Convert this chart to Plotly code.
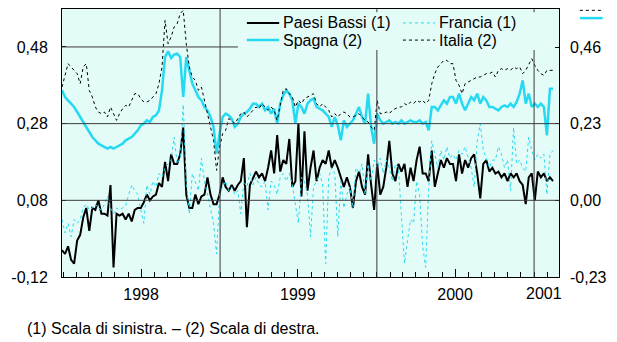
import pandas as pd
import plotly.graph_objects as go

# ---------------- data (weekly readings from the picture) ----------------
dates = pd.date_range("1997-12-29", "2001-02-14", periods=163)

paesi_bassi = [
    -0.05, -0.06, -0.04, -0.075, -0.085, -0.025, -0.01, 0.035, 0.06, 0.0, 0.06, 0.055, 0.08,
    0.045, 0.045, 0.04, 0.12, -0.095, 0.045, 0.04, 0.045, 0.03, 0.045, 0.025, 0.055, 0.06,
    0.06, 0.075, 0.095, 0.08, 0.09, 0.095, 0.125,
    0.115, 0.18, 0.13, 0.20, 0.175, 0.175, 0.20, 0.27, 0.095, 0.06, 0.06, 0.095, 0.07, 0.09,
    0.095, 0.14, 0.095, 0.07, 0.07, 0.095, 0.14, 0.115, 0.105, 0.12, 0.105, 0.12, 0.13, 0.19,
    0.01, 0.12, 0.14, 0.155,
    0.14, 0.15, 0.13, 0.165, 0.21, 0.15, 0.25, 0.155, 0.185, 0.175, 0.24, 0.115, 0.13, 0.28,
    0.09, 0.26, 0.105, 0.165, 0.21, 0.13, 0.165, 0.185, 0.175, 0.21, 0.165, 0.185, 0.165,
    0.14, 0.115, 0.14, 0.115, 0.06,
    0.13, 0.155, 0.115, 0.095, 0.20, 0.12, 0.055, 0.175, 0.095, 0.115, 0.165, 0.235, 0.15,
    0.13, 0.175, 0.155, 0.175, 0.115, 0.165, 0.13, 0.185, 0.22, 0.15, 0.15, 0.13, 0.21,
    0.115, 0.15, 0.185, 0.165, 0.19, 0.175, 0.175,
    0.13, 0.20, 0.15, 0.185, 0.165, 0.19, 0.20, 0.15, 0.085, 0.175, 0.185, 0.155, 0.165,
    0.15, 0.155, 0.14, 0.15, 0.13, 0.15, 0.14, 0.15, 0.13, 0.12, 0.07, 0.14, 0.15, 0.08,
    0.155, 0.14, 0.15, 0.13, 0.14, 0.13,
]

francia = [
    0.03, -0.005, 0.02, -0.015, 0.03, 0.02, 0.03, 0.06, 0.07, 0.055, 0.06, 0.07, 0.06, 0.055,
    0.07, 0.09, 0.06, 0.045, 0.06, 0.055, 0.06, 0.065, 0.095, 0.12, 0.105, 0.095, 0.055, 0.02,
    0.12, 0.095, 0.13, 0.115, 0.15,
    0.14, 0.165, 0.175, 0.185, 0.245, 0.175, 0.19, 0.33, 0.13, 0.045, 0.15, 0.13, 0.105, 0.19,
    0.13, 0.095, 0.055, 0.02, -0.06, 0.095, 0.115, 0.13, 0.105, 0.115, 0.095, 0.105, 0.045,
    0.13, 0.115, 0.15, 0.12, 0.14,
    0.12, 0.115, 0.13, 0.055, 0.13, 0.12, 0.095, 0.14, 0.15, 0.13, 0.15, 0.12, 0.07, 0.02,
    0.14, 0.13, 0.095, -0.015, 0.115, 0.13, 0.15, 0.12, -0.085, 0.14, 0.165, 0.15, -0.015,
    0.13, 0.06, 0.095, 0.115, 0.06,
    0.165, 0.15, 0.175, 0.095, 0.175, 0.13, 0.185, 0.165, 0.19, 0.15, 0.185, 0.165, 0.13,
    0.175, 0.165, 0.045, -0.085, -0.025, 0.03, 0.02, 0.13, 0.095, -0.04, -0.095, 0.115, 0.235,
    0.2, 0.165, 0.21, 0.185, 0.22, 0.19, 0.2,
    0.185, 0.21, 0.2, 0.22, 0.19, 0.165, 0.115, 0.235, 0.28, 0.21, 0.19, 0.165, 0.185, 0.185,
    0.22, 0.2, 0.165, 0.185, 0.105, 0.27, 0.175, 0.185, 0.165, 0.155, 0.245, 0.21, 0.185, 0.2,
    0.19, 0.2, 0.095, 0.2, 0.21,
]

spagna = [
    0.33, 0.31, 0.30, 0.29, 0.28, 0.265, 0.25, 0.235, 0.22, 0.205, 0.19, 0.18, 0.17, 0.165,
    0.16, 0.155, 0.16, 0.155, 0.16, 0.165, 0.17, 0.18, 0.185, 0.19, 0.2, 0.21, 0.225, 0.23,
    0.24, 0.235, 0.25, 0.255, 0.27,
    0.33, 0.43, 0.447, 0.427, 0.437, 0.44, 0.43, 0.31, 0.43, 0.39, 0.35, 0.33, 0.31, 0.30,
    0.28, 0.27, 0.25, 0.22, 0.14, 0.20, 0.25, 0.26, 0.255, 0.245, 0.22, 0.23, 0.25, 0.26,
    0.265, 0.275, 0.29, 0.29,
    0.28, 0.29, 0.27, 0.28, 0.26, 0.275, 0.23, 0.29, 0.315, 0.33, 0.32, 0.30, 0.23, 0.29,
    0.28, 0.26, 0.29, 0.30, 0.305, 0.28, 0.275, 0.27, 0.26, 0.25, 0.22, 0.25, 0.225, 0.18,
    0.24, 0.22, 0.23, 0.24,
    0.26, 0.28, 0.25, 0.23, 0.32, 0.22, 0.17, 0.26, 0.24, 0.23, 0.235, 0.24, 0.23, 0.235,
    0.23, 0.24, 0.23, 0.235, 0.24, 0.235, 0.235, 0.24, 0.23, 0.235, 0.21, 0.28, 0.28, 0.27,
    0.285, 0.30, 0.29, 0.31, 0.31,
    0.29, 0.32, 0.29, 0.27, 0.29, 0.31, 0.30, 0.32, 0.29, 0.31, 0.30, 0.28, 0.28, 0.275,
    0.27, 0.28, 0.285, 0.28, 0.29, 0.28, 0.295, 0.32, 0.36, 0.29, 0.32, 0.28, 0.29, 0.28,
    0.29, 0.28, 0.195, 0.335, 0.335,
]

italia = [
    0.34, 0.38, 0.41, 0.40, 0.39, 0.38, 0.35, 0.40, 0.41, 0.33, 0.31, 0.28, 0.265, 0.26,
    0.265, 0.25, 0.28, 0.26, 0.24, 0.26, 0.275, 0.285, 0.28, 0.30, 0.32, 0.32, 0.305, 0.295,
    0.295, 0.30, 0.31, 0.32, 0.35,
    0.40, 0.54, 0.47, 0.49, 0.52, 0.53, 0.56, 0.57, 0.47, 0.40, 0.37, 0.36, 0.33, 0.34, 0.30,
    0.27, 0.23, 0.18, 0.09, 0.16, 0.20, 0.21, 0.245, 0.24, 0.23, 0.245, 0.26, 0.265, 0.25,
    0.26, 0.27, 0.28,
    0.275, 0.29, 0.28, 0.27, 0.28, 0.27, 0.24, 0.29, 0.33, 0.335, 0.32, 0.31, 0.28, 0.30,
    0.29, 0.305, 0.31, 0.315, 0.32, 0.29, 0.28, 0.29, 0.28, 0.27, 0.25, 0.26, 0.25, 0.26,
    0.265, 0.26, 0.25, 0.25,
    0.255, 0.26, 0.25, 0.24, 0.235, 0.22, 0.21, 0.30, 0.26, 0.26, 0.265, 0.26, 0.27, 0.275,
    0.28, 0.28, 0.29, 0.285, 0.295, 0.29, 0.30, 0.295, 0.30, 0.29, 0.30, 0.35, 0.38, 0.40,
    0.41, 0.42, 0.42, 0.41, 0.41,
    0.36, 0.345, 0.32, 0.35, 0.355, 0.36, 0.365, 0.37, 0.37, 0.375, 0.38, 0.38, 0.385, 0.37,
    0.39, 0.395, 0.39, 0.395, 0.39, 0.40, 0.395, 0.40, 0.38, 0.39, 0.41, 0.425, 0.405, 0.39,
    0.38, 0.375, 0.39, 0.39, 0.39,
]

left_ticks = [-0.12, 0.08, 0.28, 0.48]
left_labels = ["-0,12", "0,08", "0,28", "0,48"]
right_ticks = [-0.23, 0.00, 0.23, 0.46]
right_labels = ["-0,23", "0,00", "0,23", "0,46"]
year_ticks = ["1998-07-01", "1999-07-01", "2000-07-01"]
year_labels = ["1998", "1999", "2000"]
month_ticks = pd.date_range("1998-01-01", "2001-02-01", freq="MS")
year_lines = ["1999-01-01", "2000-01-01", "2001-01-01"]

# ---------------- styling ----------------
CYAN = "#26D9F2"
BG = "#E4FCF8"
GRID = "#3C3C3C"
FONT = "Liberation Sans, Arial, sans-serif"

series = [
    ("Paesi Bassi (1)", paesi_bassi, dict(color="black", width=2), "y"),
    ("Francia (1)", francia, dict(color=CYAN, width=1, dash="dot"), "y"),
    ("Spagna (2)", spagna, dict(color=CYAN, width=2.5), "y2"),
    ("Italia (2)", italia, dict(color="black", width=1, dash="dot"), "y2"),
]

fig = go.Figure()
for name, vals, ln, ax in series:
    fig.add_trace(go.Scatter(x=dates, y=vals, name=name, mode="lines", line=ln,
                             yaxis=ax, showlegend=False))

shapes = []
# horizontal grid lines (left scale)
for v in left_ticks[1:3]:
    shapes.append(dict(type="line", xref="paper", x0=0, x1=1, yref="y", y0=v, y1=v,
                       line=dict(color=GRID, width=1), layer="above"))
shapes.append(dict(type="line", xref="paper", x0=0, x1=0.354, yref="y",
                   y0=left_ticks[3], y1=left_ticks[3],
                   line=dict(color=GRID, width=1), layer="above"))
# vertical year separators
for i, d in enumerate(year_lines):
    top = 1 if i == 0 else 0.847
    shapes.append(dict(type="line", xref="x", x0=d, x1=d, yref="paper", y0=0, y1=top,
                       line=dict(color=GRID, width=1), layer="above"))
    if i > 0:
        shapes.append(dict(type="line", xref="x", x0=d, x1=d, yref="paper", y0=0.988, y1=1,
                           line=dict(color=GRID, width=1), layer="above"))

# legend key (two columns, drawn in paper coordinates)
legend_pos = [(0.372, 0.948), (0.686, 0.948), (0.372, 0.884), (0.686, 0.884)]
annotations = []
for (name, vals, ln, ax), (lx, ly) in zip(series, legend_pos):
    shapes.append(dict(type="line", xref="paper", x0=lx, x1=lx + 0.065, yref="paper",
                       y0=ly, y1=ly, line=ln))
    annotations.append(dict(text=name, x=lx + 0.068, xref="paper", y=ly, yref="paper",
                            showarrow=False, xanchor="left", yanchor="middle",
                            font=dict(family=FONT, size=16, color="black")))

# small key for the right-hand scale (top right)
shapes.append(dict(type="line", xref="paper", x0=1.042, x1=1.088, yref="paper",
                   y0=0.995, y1=0.995, line=dict(color="black", width=1, dash="dot")))
shapes.append(dict(type="line", xref="paper", x0=1.042, x1=1.088, yref="paper",
                   y0=0.966, y1=0.966, line=dict(color=CYAN, width=2.5)))

annotations += [
    dict(text="2001", x="2001-01-24", xref="x", y=-0.06, yref="paper",
         showarrow=False, xanchor="center", yanchor="middle",
         font=dict(family=FONT, size=16, color="black")),
    dict(text="(1) Scala di sinistra. \u2013 (2) Scala di destra.", x=-0.0744, xref="paper",
         y=-0.194, yref="paper", showarrow=False, xanchor="left", yanchor="middle",
         font=dict(family=FONT, size=16, color="black")),
]

fig.update_layout(
    width=617, height=342,
    margin=dict(l=62, r=58, t=9, b=65, autoexpand=False),
    paper_bgcolor="white", plot_bgcolor=BG,
    font=dict(family=FONT, size=16, color="black"),
    showlegend=False,
    xaxis=dict(type="date", range=["1997-12-29", "2001-02-28"],
               tickmode="array", tickvals=year_ticks, ticktext=year_labels,
               ticks="inside", ticklen=8, tickcolor="black",
               showgrid=False, zeroline=False, ticklabelstandoff=3,
               showline=True, mirror=True, linecolor="black", linewidth=1,
               minor=dict(tickmode="array", tickvals=list(month_ticks), ticks="inside",
                          ticklen=5, tickcolor="black", showgrid=False)),
    yaxis=dict(range=[-0.12, 0.579], tickmode="array", tickvals=left_ticks,
               ticktext=left_labels, ticks="inside", ticklen=4, tickcolor="black",
               showgrid=False, zeroline=False, showline=True, mirror=True,
               linecolor="black", linewidth=1, ticklabelstandoff=10),
    yaxis2=dict(range=[-0.23, 0.574], overlaying="y", side="right", tickmode="array",
                tickvals=right_ticks, ticktext=right_labels, ticks="inside", ticklen=4,
                tickcolor="black", showgrid=False, zeroline=False, showline=False,
                ticklabelstandoff=10),
    shapes=shapes,
    annotations=annotations,
)

fig.write_html("out.html", config={"displayModeBar": False},
               post_script="document.body.style.margin='0';document.body.style.padding='0';")
